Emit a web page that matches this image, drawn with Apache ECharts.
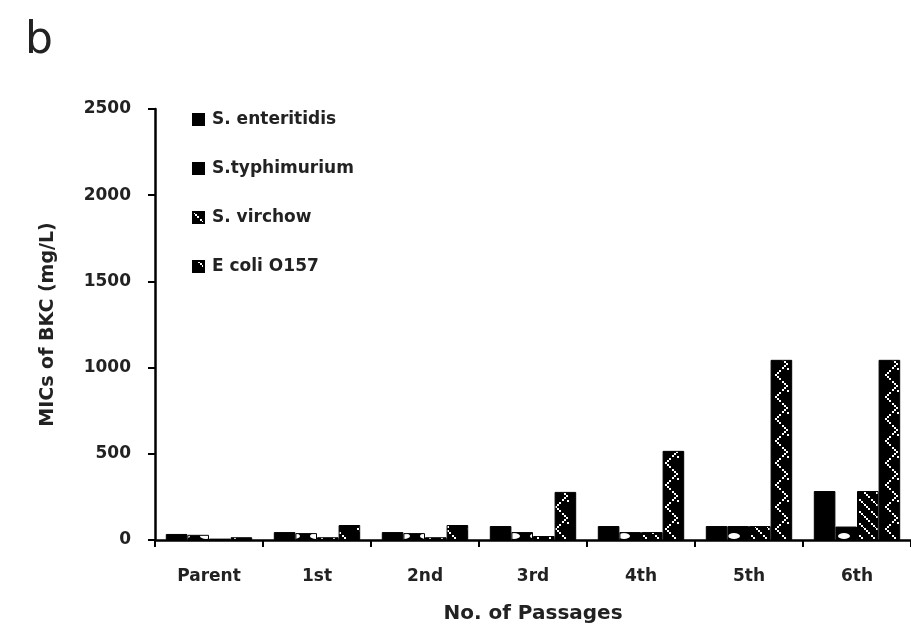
<!DOCTYPE html>
<html>
<head>
<meta charset="utf-8">
<script src="https://cdn.jsdelivr.net/npm/echarts@6/dist/echarts.min.js"></script>
<style>
  html, body { margin: 0; padding: 0; background: #fff; }
  #chart { width: 911px; height: 637px; }
</style>
</head>
<body>
<div id="chart"></div>
<script>
// Passage numbers and MIC values (mg/L) per strain
const passages = ['Parent', '1st', '2nd', '3rd', '4th', '5th', '6th'];
const seriesNames = ['S. enteritidis', 'S.typhimurium', 'S. virchow', 'E coli O157'];
const enteritidis = [35, 46, 46, 81, 81, 81, 284];
const typhimurium = [30, 40, 40, 46, 46, 81, 78];
const virchow = [8, 16, 16, 23, 46, 81, 284];
const ecoli = [16, 87, 87, 279, 517, 1045, 1045];
const yTicks = [0, 500, 1000, 1500, 2000, 2500];

const FONT = 'DejaVu Sans';
const INK = '#222';

// Small tiled canvases used as fill patterns for the bars
function makePattern(w, h, draw) {
  const c = document.createElement('canvas');
  c.width = w; c.height = h;
  const g = c.getContext('2d');
  g.fillStyle = '#000';
  g.fillRect(0, 0, w, h);
  g.fillStyle = '#fff';
  draw(g, w, h);
  return c;
}
function dotLine(g, x0, y0, x1, y1, step) {
  const len = Math.hypot(x1 - x0, y1 - y0);
  const n = Math.max(1, Math.round(len / step));
  for (let i = 0; i <= n; i++) {
    const t = i / n;
    g.fillRect(Math.round(x0 + (x1 - x0) * t), Math.round(y0 + (y1 - y0) * t), 2, 2);
  }
}
// blotchy light spots
const typhPattern = makePattern(22, 34, (g) => {
  g.beginPath();
  g.ellipse(8, 26, 6, 3, 0, 0, Math.PI * 2);
  g.fill();
  g.fillRect(14, 8, 5, 2);
});
// dotted diagonal hatching
const virchowPattern = makePattern(12, 12, (g) => {
  dotLine(g, 0, 0, 11, 11, 3);
});
// dotted zig-zag chains
const ecoliPattern = makePattern(22, 44, (g) => {
  dotLine(g, 5, 0, 16, 11, 3);
  dotLine(g, 16, 11, 5, 22, 3);
  dotLine(g, 5, 22, 16, 33, 3);
  dotLine(g, 16, 33, 5, 44, 3);
  g.fillRect(17, 16, 2, 2);
  g.fillRect(17, 38, 2, 2);
});

const fills = [
  '#000',
  { image: typhPattern, repeat: 'repeat' },
  { image: virchowPattern, repeat: 'repeat' },
  { image: ecoliPattern, repeat: 'repeat' }
];
const values = [enteritidis, typhimurium, virchow, ecoli];

const chart = echarts.init(document.getElementById('chart'), null, { renderer: 'canvas' });

chart.setOption({
  backgroundColor: '#fff',
  animation: false,
  textStyle: { fontFamily: FONT, color: INK },
  graphic: [{
    type: 'text',
    left: 25,
    top: 20,
    style: { text: 'b', font: '44px "DejaVu Sans"', fill: INK }
  }],
  legend: {
    orient: 'vertical',
    left: 187,
    top: 106,
    itemGap: 32,
    itemWidth: 11,
    itemHeight: 11,
    icon: 'rect',
    textStyle: { fontFamily: FONT, fontSize: 17, fontWeight: 'bold', color: INK, padding: [0, 0, 0, 3] },
    data: seriesNames
  },
  grid: { left: 155, top: 109, width: 766, bottom: 97, containLabel: false },
  xAxis: {
    type: 'category',
    data: passages,
    name: 'No. of Passages',
    nameLocation: 'middle',
    nameGap: 64,
    nameTextStyle: { fontFamily: FONT, fontSize: 20, fontWeight: 'bold', color: INK },
    axisLine: { lineStyle: { color: '#000', width: 2.5 } },
    axisTick: { show: true, alignWithLabel: false, length: 7, lineStyle: { color: '#000', width: 2 } },
    axisLabel: { margin: 28, fontFamily: FONT, fontSize: 17, fontWeight: 'bold', color: INK }
  },
  yAxis: {
    type: 'value',
    min: yTicks[0],
    max: yTicks[yTicks.length - 1],
    interval: yTicks[1] - yTicks[0],
    name: 'MICs of BKC (mg/L)',
    nameLocation: 'middle',
    nameGap: 97,
    nameRotate: 90,
    nameTextStyle: { fontFamily: FONT, fontSize: 19, fontWeight: 'bold', color: INK },
    axisLine: { show: true, lineStyle: { color: '#000', width: 2.5 } },
    axisTick: { show: true, length: 7, lineStyle: { color: '#000', width: 2 } },
    axisLabel: {
      margin: 24, fontFamily: FONT, fontSize: 17, fontWeight: 'bold', color: INK,
      formatter: (v) => String(v)
    },
    splitLine: { show: false }
  },
  series: seriesNames.map((name, i) => ({
    name: name,
    type: 'bar',
    data: values[i],
    barGap: '0%',
    barCategoryGap: '20%',
    itemStyle: { color: fills[i], borderColor: '#000', borderWidth: 1 }
  }))
});
</script>
</body>
</html>
